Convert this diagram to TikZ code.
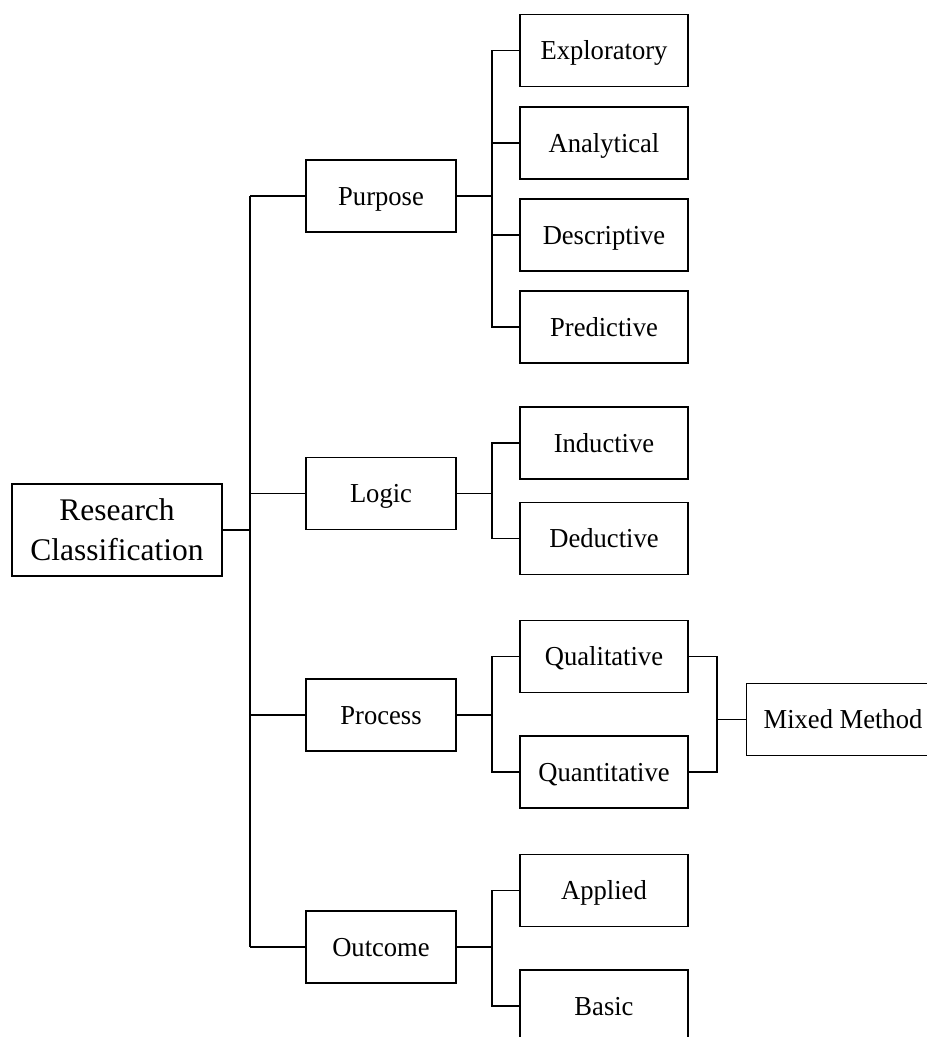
\documentclass[tikz,border=0pt]{standalone}
\usepackage{fontspec}
\setmainfont{Liberation Serif}
\newfontfamily\boxfont{Liberation Serif}[FakeStretch=0.97]
\begin{document}
\begin{tikzpicture}[x=1pt,y=-1pt,
  box/.style={draw, line width=1.7pt, inner sep=0pt, anchor=center,
    font=\boxfont\fontsize{27.4}{32}\selectfont, text height=18pt, text depth=0pt},
  catbox/.style={box, minimum width=150pt, minimum height=72pt},
  leafbox/.style={box, minimum width=168pt, minimum height=72pt},
  rootbox/.style={draw, line width=2.2pt, inner sep=0pt, align=center,
    minimum width=210pt, minimum height=92pt,
    font=\fontsize{31.5}{40}\selectfont},
  link/.style={line width=1.7pt},
  rootlink/.style={line width=2.2pt}]

% page area
\clip (0,0) rectangle (927,1037);
\fill[white] (0,0) rectangle (927,1037);

% bus positions
\coordinate (trunk) at (250,0);
\coordinate (bus) at (492,0);
\coordinate (mixbus) at (717,0);

% root
\node[rootbox] (root) at (117,530) {Research\\Classification};

% categories
\node[catbox] (purpose) at (381,196) {Purpose};
\node[catbox] (logic)   at (381,493.5) {Logic};
\node[catbox] (process) at (381,715) {Process};
\node[catbox] (outcome) at (381,947) {Outcome};

% leaves
\node[leafbox] (exploratory)  at (604,50.5) {Exploratory};
\node[leafbox] (analytical)   at (604,143) {Analytical};
\node[leafbox] (descriptive)  at (604,235) {Descriptive};
\node[leafbox] (predictive)   at (604,327) {Predictive};
\node[leafbox] (inductive)    at (604,443) {Inductive};
\node[leafbox] (deductive)    at (604,538.5) {Deductive};
\node[leafbox] (qualitative)  at (604,656.5) {Qualitative};
\node[leafbox] (quantitative) at (604,772) {Quantitative};
\node[leafbox] (applied)      at (604,890.5) {Applied};
\node[leafbox] (basic)        at (604,1006) {Basic};

% combined method
\node[box, minimum width=193pt, minimum height=72pt] (mixed) at (843,719.5) {Mixed Method};

% root to categories
\draw[rootlink] (root.east) -- (root.east -| trunk);
\draw[link] (purpose.west -| trunk) -- (outcome.west -| trunk);
\foreach \n in {purpose,logic,process,outcome}
  \draw[link] (\n.west) -- (\n.west -| trunk);

% category to leaves
\foreach \p/\first/\last in {purpose/exploratory/predictive,
                             logic/inductive/deductive,
                             process/qualitative/quantitative,
                             outcome/applied/basic} {
  \draw[link] (\p.east) -- (\p.east -| bus);
  \draw[link] (\first.west) -- (\first.west -| bus) -- (\last.west -| bus) -- (\last.west);
}
\draw[link] (analytical.west) -- (analytical.west -| bus);
\draw[link] (descriptive.west) -- (descriptive.west -| bus);

% qualitative + quantitative to mixed method
\draw[link] (qualitative.east) -- (qualitative.east -| mixbus)
  -- (quantitative.east -| mixbus) -- (quantitative.east);
\draw[link] (mixed.west -| mixbus) -- (mixed.west);

\end{tikzpicture}
\end{document}
